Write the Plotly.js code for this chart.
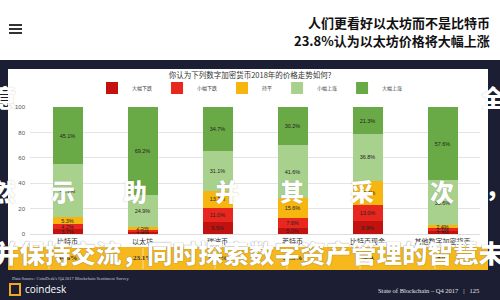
<!DOCTYPE html>
<html>
<head>
<meta charset="utf-8">
<script src="https://cdn.plot.ly/plotly-3.0.1.min.js"></script>
<style>html,body{margin:0;padding:0;background:#1c1f33;}#chart{width:500px;height:300px;}</style>
</head>
<body>
<div id="chart"></div>
<script>
// ---- data ----
const categories = ["比特币", "以太坊", "瑞波币", "莱特币", "比特币现金", "其他数字加密货币"];
const seriesNames = ["大幅下跌", "小幅下跌", "持平", "小幅上涨", "大幅上涨"];
const bigDrop   = [3.7, 1.4, 9.5, 5.0, 9.9, 2.3];
const smallDrop = [4.2, 2.0, 11.0, 7.6, 13.0, 2.1];
const flat      = [5.3, 2.5, 13.7, 15.6, 19.0, 2.4];
const smallRise = [41.7, 24.9, 31.1, 41.6, 36.8, 35.6];
const bigRise   = [45.1, 69.2, 34.7, 30.2, 21.3, 57.6];
const bandValues = ["44.6%", "23.1%", "10.2%", "22.3%", "N/A", "8%"];
const yTicks = [0, 20, 40, 60, 80, 100];

const headline1 = "人们更看好以太坊而不是比特币";
const headline2 = "23.8%认为以太坊价格将大幅上涨";
const chartTitle = "你认为下列数字加密货币2018年的价格走势如何?";
const sourceText = "Data Source: CoinDesk's Q4 2017 Blockchain Sentiment Survey";
const footerText = "State of Blockchain – Q4 2017   |   125";
const overlayLine3 = "并保持交流，同时探索数字资产管理的智慧未来";

// ---- styling / layout ----
const colors = ["#c2120f", "#e8281e", "#f6b60f", "#a9d18e", "#6aaa46"];
const seriesValues = [bigDrop, smallDrop, flat, smallRise, bigRise];

const L = 30, R = 20, T = 107, B = 66, W = 500, H = 300;
const pw = W - L - R, ph = H - T - B;
const PX = x => (x - L) / pw;
const PY = y => (H - B - y) / ph;

const traces = seriesNames.map((name, i) => ({
  type: "bar",
  name: name,
  x: categories,
  y: seriesValues[i],
  marker: {color: colors[i]},
  texttemplate: "%{y:.1f}%",
  textposition: "inside",
  insidetextanchor: "middle",
  textangle: 0,
  textfont: {size: 5.5, color: "#222", family: "Liberation Sans"},
  hoverinfo: "skip"
}));

const shapes = [
  {type: "rect", xref: "paper", yref: "paper", x0: PX(0), x1: PX(500), y0: PY(0), y1: PY(60), fillcolor: "#ffffff", line: {width: 0}, layer: "below"},
  {type: "rect", xref: "paper", yref: "paper", x0: PX(8), x1: PX(488), y0: PY(69), y1: PY(247), fillcolor: "#ffffff", line: {width: 0}, layer: "below"},
  {type: "rect", xref: "paper", yref: "paper", x0: PX(8), x1: PX(488), y0: PY(247), y1: PY(270), fillcolor: "#f6b81c", line: {width: 0}, layer: "below"},
  {type: "line", xref: "paper", yref: "paper", x0: PX(9), x1: PX(22), y0: PY(25), y1: PY(25), line: {color: "#333", width: 2}},
  {type: "line", xref: "paper", yref: "paper", x0: PX(9), x1: PX(22), y0: PY(29), y1: PY(29), line: {color: "#333", width: 2}},
  {type: "line", xref: "paper", yref: "paper", x0: PX(9), x1: PX(22), y0: PY(33), y1: PY(33), line: {color: "#333", width: 2}},
  {type: "rect", xref: "paper", yref: "paper", x0: PX(10), x1: PX(20), y0: PY(284), y1: PY(295), fillcolor: "rgba(0,0,0,0)", line: {color: "#f2a81d", width: 2}}
];
[49, 143, 215, 287, 360, 435].forEach(px => shapes.push({
  type: "line", xref: "paper", yref: "paper", x0: PX(px), x1: PX(px), y0: PY(248), y1: PY(269),
  line: {color: "rgba(255,255,255,0.55)", width: 1}
}));

const ann = [];
ann.push({xref: "paper", yref: "paper", x: PX(492), y: PY(22), xanchor: "right", yanchor: "middle", showarrow: false,
  text: headline1, font: {family: "Noto Sans CJK SC", size: 13, weight: 700, color: "#111"}});
ann.push({xref: "paper", yref: "paper", x: PX(492), y: PY(40), xanchor: "right", yanchor: "middle", showarrow: false,
  text: headline2, font: {family: "Noto Sans CJK SC", size: 13, weight: 700, color: "#111"}});
categories.forEach((c, i) => ann.push({xref: "x", yref: "paper", x: c, y: PY(258), xanchor: "center", yanchor: "middle", showarrow: false,
  text: "<b>" + bandValues[i] + "</b>", font: {family: "Liberation Serif", size: 7, color: "#333"}}));
ann.push({xref: "paper", yref: "paper", x: PX(10), y: PY(278), xanchor: "left", yanchor: "middle", showarrow: false,
  text: sourceText, font: {family: "Liberation Serif", size: 4.5, color: "#c9cbd6"}});
ann.push({xref: "paper", yref: "paper", x: PX(23), y: PY(289), xanchor: "left", yanchor: "middle", showarrow: false,
  text: "coindesk", font: {family: "Open Sans", size: 10, color: "#ffffff"}});
ann.push({xref: "paper", yref: "paper", x: PX(481), y: PY(290), xanchor: "right", yanchor: "middle", showarrow: false,
  text: footerText, font: {family: "Liberation Serif", size: 6.5, color: "#e6e6ea"}});

// overlay text
const ovFont = {family: "Noto Sans CJK SC", size: 24, weight: 900, color: "#ffffff", shadow: "0px 0px 1px rgba(0,0,0,0.3)"};
const overlayChars = [["意", 5, 97], ["全", 493, 97], ["然", 4, 190], ["示", 63, 190], ["助", 135, 190], ["并", 227, 190],
  ["其", 292, 190], ["采", 362, 190], ["次", 442, 190], ["，", 497, 186]];
overlayChars.forEach(([t, x, y]) => ann.push({xref: "paper", yref: "paper", x: PX(x), y: PY(y), xanchor: "center", yanchor: "middle",
  showarrow: false, text: t, font: ovFont}));
ann.push({xref: "paper", yref: "paper", x: PX(-8), y: PY(251), xanchor: "left", yanchor: "middle", showarrow: false,
  text: overlayLine3, font: Object.assign({}, ovFont, {size: 25.5, shadow: "0px 0px 1px rgba(0,0,0,0.6)"})});

const layout = {
  width: W, height: H,
  margin: {l: L, r: R, t: T, b: B, pad: 0},
  paper_bgcolor: "#1c1f33",
  plot_bgcolor: "rgba(0,0,0,0)",
  barmode: "stack",
  bargap: 0.6,
  showlegend: true,
  legend: {orientation: "h", x: PX(250), y: PY(88), xanchor: "center", yanchor: "middle",
    font: {family: "Noto Sans CJK SC", size: 5, color: "#444"}, bgcolor: "rgba(0,0,0,0)", itemwidth: 30, traceorder: "normal"},
  title: {text: chartTitle, x: 0.5, xanchor: "center", y: 1 - 75 / H, yanchor: "middle",
    font: {family: "Noto Sans CJK SC", size: 7.5, color: "#333"}},
  xaxis: {type: "category", tickfont: {family: "Noto Sans CJK SC", size: 7, color: "#333"}, showline: false, ticks: "", ticklabelstandoff: 2},
  yaxis: {range: [0, 100], tickvals: yTicks, ticksuffix: "%", tickfont: {family: "Liberation Sans", size: 6, color: "#555"},
    gridcolor: "#e4e4e4", zeroline: true, zerolinecolor: "#dddddd", ticks: "", ticklabelstandoff: 4},
  uniformtext: {minsize: 5.5, mode: "show"},
  shapes: shapes,
  annotations: ann
};

Plotly.newPlot("chart", traces, layout, {displayModeBar: false, staticPlot: true});
</script>
</body>
</html>
